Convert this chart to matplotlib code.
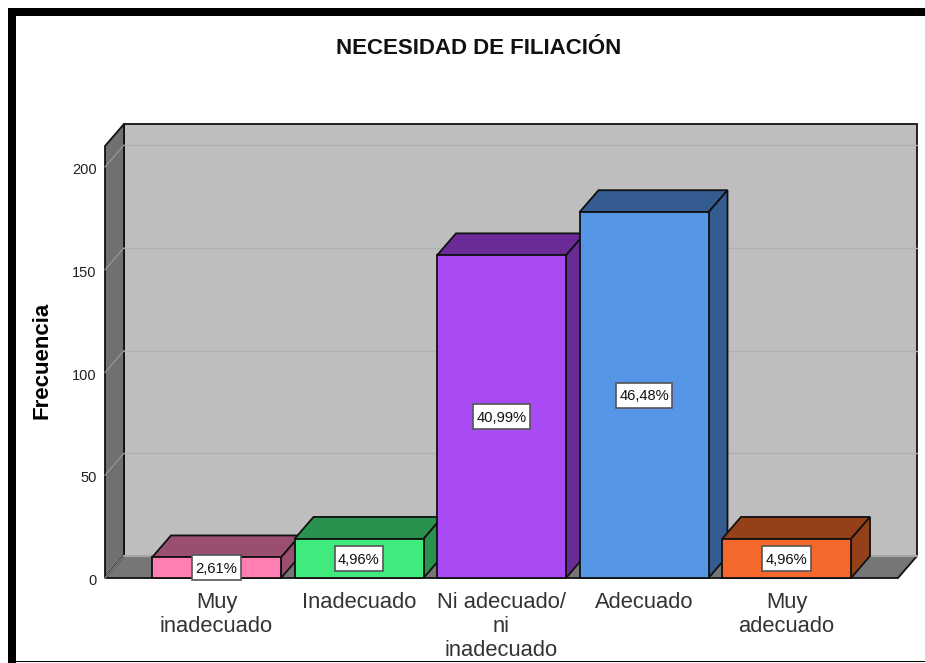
import matplotlib
matplotlib.use("Agg")
import matplotlib.pyplot as plt
from matplotlib.patches import Polygon, Rectangle
from matplotlib.transforms import ScaledTranslation

plt.rcParams['font.family'] = ['Liberation Sans', 'DejaVu Sans']

categorias = ['Muy\ninadecuado', 'Inadecuado', 'Ni adecuado/\nni\ninadecuado', 'Adecuado', 'Muy\nadecuado']
frecuencias = [10, 19, 157, 178, 19]
porcentajes = ['2,61%', '4,96%', '40,99%', '46,48%', '4,96%']
ticks_y = [0, 50, 100, 150, 200]

color_frente = ['#ff7fb4', '#40eb7d', '#aa4af5', '#5596e6', '#f4692b']
color_lado = ['#9b4f70', '#29924e', '#6b2b96', '#345c90', '#94411a']

W, H = 925, 663
fig = plt.figure(figsize=(W / 100, H / 100), dpi=100, facecolor='white')

# marco negro del visor (a la derecha la imagen esta cortada)
fig.add_artist(Rectangle((8 / W, 0), 8 / W, 1 - 8 / H, transform=fig.transFigure, color='black', lw=0))
fig.add_artist(Rectangle((8 / W, 1 - 16 / H), 1, 8 / H, transform=fig.transFigure, color='black', lw=0))
fig.add_artist(Rectangle((8 / W, 1 / H), 1, 1.2 / H, transform=fig.transFigure, color='black', lw=0))

# ejes en pixeles: base en y=578, frente de x=105 a x=898
ax = fig.add_axes([105 / W, 1 - 578 / H, 793 / W, 432 / H])
paso_x = 142.5
paso_y = 2.055
ax.set_xlim(-111.5 / paso_x, 681.5 / paso_x)
ax.set_ylim(0, 432 / paso_y)
dx = 19 / paso_x
dy = 22 / paso_y
ancho = 129 / paso_x
x0, x1 = ax.get_xlim()
techo = ax.get_ylim()[1]
borde = '#111111'


def poli(puntos, color, z, lw=1.3, ec=borde):
    ax.add_patch(Polygon(puntos, closed=True, fc=color, ec=ec, lw=lw, zorder=z, clip_on=False, joinstyle='miter'))


# paredes y piso
poli([(x0 + dx, dy), (x1 + dx, dy), (x1 + dx, techo + dy), (x0 + dx, techo + dy)], '#bebebe', 1)
poli([(x0, 0), (x0 + dx, dy), (x0 + dx, techo + dy), (x0, techo)], '#707070', 1)
poli([(x0, 0), (x1, 0), (x1 + dx, dy), (x0 + dx, dy)], '#767676', 1)
ax.plot([x0 + dx, x1 + dx], [dy, dy], color='#a6a6a6', lw=1.5, zorder=2, clip_on=False)
ax.plot([x0, x0 + dx], [0, dy], color='#9a9a9a', lw=0.8, zorder=2, clip_on=False)

for t in ticks_y[1:]:
    ax.plot([x0 + dx, x1 + dx], [t + dy, t + dy], color='#b0b0b0', lw=1, zorder=2, clip_on=False)
    ax.plot([x0, x0 + dx], [t, t + dy], color='#9a9a9a', lw=0.8, zorder=2, clip_on=False)

# barras en orden de izquierda a derecha, cada una tapa el lado de la anterior
render = fig.canvas.get_renderer()
for i, v in enumerate(frecuencias):
    a = i - ancho / 2
    b = i + ancho / 2
    z = 3 + i
    poli([(a, v), (b, v), (b + dx, v + dy), (a + dx, v + dy)], color_lado[i], z)
    poli([(b, 0), (b + dx, dy), (b + dx, v + dy), (b, v)], color_lado[i], z)
    poli([(a, 0), (b, 0), (b, v), (a, v)], color_frente[i], z)
    txt = ax.text(i, v / 2 - 0.6, porcentajes[i], ha='center', va='center', fontsize=10.6, color='#111111', zorder=21)
    # la caja es mas alta que ancha de margen, por eso no uso bbox del texto
    mitad_x = (txt.get_window_extent(render).width + 7) / 2 / paso_x
    mitad_y = 12.5 / paso_y
    ax.add_patch(Rectangle((i - mitad_x, v / 2 - mitad_y), 2 * mitad_x, 2 * mitad_y, fc='white', ec='#555555',
                           lw=1.2, zorder=20, clip_on=False))

ax.set_xticks(range(len(categorias)))
ax.set_xticklabels(categorias, fontsize=15.8, color='#333333', linespacing=1.2)
ax.set_yticks(ticks_y)
ax.set_yticklabels([str(t) for t in ticks_y], fontsize=10.5, color='#222222')
ax.tick_params(axis='x', length=0, pad=10)
ax.tick_params(axis='y', length=0, pad=6)
for lab in ax.get_yticklabels():
    lab.set_transform(lab.get_transform() + ScaledTranslation(0, -1.5 / 100, fig.dpi_scale_trans))
for s in ax.spines.values():
    s.set_visible(False)
ax.patch.set_visible(False)

ax.set_ylabel('Frecuencia', fontsize=16, fontweight='bold', color='black')
ax.yaxis.set_label_coords(-52 / 793, (578 - 360) / 432)

fig.text(478.5 / W, 1 - 48.5 / H, 'NECESIDAD DE FILIACIÓN', ha='center', va='center',
         fontsize=16, fontweight='bold', color='#111111')

fig.savefig('out.png', dpi=100)
